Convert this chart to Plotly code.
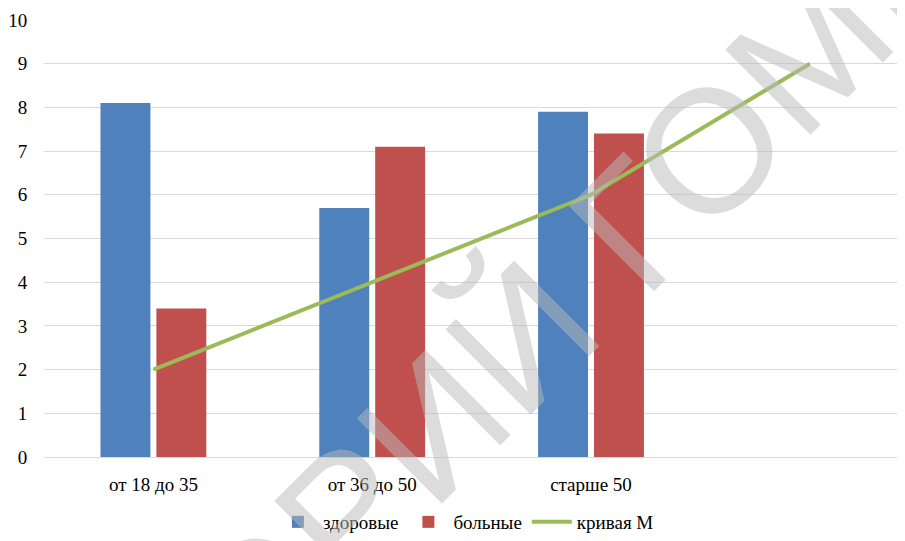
import plotly.graph_objects as go

categories = ["от 18 до 35", "от 36 до 50", "старше 50"]
x_line = [0, 1, 2, 3]
healthy = [8.1, 5.7, 7.9]
sick = [3.4, 7.1, 7.4]
curve_m = [2, 4, 6, 9]
y_ticks = [0, 1, 2, 3, 4, 5, 6, 7, 8, 9, 10]
watermark = "РЕПОЗИТОРИЙ ГОМГМУ"

font_serif = "Liberation Serif"

fig = go.Figure()
fig.add_trace(go.Bar(x=[0, 1, 2], y=healthy, name="здоровые",
                     marker=dict(color="#4F81BD", line=dict(width=0))))
fig.add_trace(go.Bar(x=[0, 1, 2], y=sick, name="больные",
                     marker=dict(color="#C0504D", line=dict(width=0))))
fig.add_trace(go.Scatter(x=x_line, y=curve_m, name="кривая М", mode="lines",
                         line=dict(color="#9BBB59", width=4)))

fig.update_layout(
    width=897, height=533,
    margin=dict(l=36, r=0, t=12, b=72),
    paper_bgcolor="white", plot_bgcolor="white",
    barmode="group", bargap=0.489, bargroupgap=0.107,
    font=dict(family=font_serif, size=19, color="#000000"),
    showlegend=True,
    legend=dict(orientation="h", x=0.49, xanchor="center", y=-0.15, yanchor="middle",
                font=dict(family=font_serif, size=19, color="#000000"),
                traceorder="normal", itemwidth=40),
    xaxis=dict(range=[-0.5, 3.435], tickmode="array", tickvals=[0, 1, 2],
               ticktext=categories, showgrid=False, zeroline=False,
               showline=False, ticks="outside", ticklen=10, tickcolor="rgba(0,0,0,0)",
               tickfont=dict(family=font_serif, size=19, color="#000000")),
    yaxis=dict(range=[0, 10], tickvals=y_ticks, showgrid=True, gridcolor="#D9D9D9",
               gridwidth=1, zeroline=True, zerolinecolor="#D9D9D9", zerolinewidth=1,
               showline=False, ticks="outside", ticklen=12, tickcolor="rgba(0,0,0,0)",
               tickfont=dict(family=font_serif, size=19, color="#000000")),
)

fig.add_annotation(text=watermark, xref="paper", yref="paper",
                   x=0.374, y=-0.082, xanchor="center", yanchor="middle",
                   showarrow=False, textangle=-45,
                   font=dict(family="Liberation Sans", size=175,
                             color="rgba(185,185,185,0.5)"))

fig.write_html("out.html")
